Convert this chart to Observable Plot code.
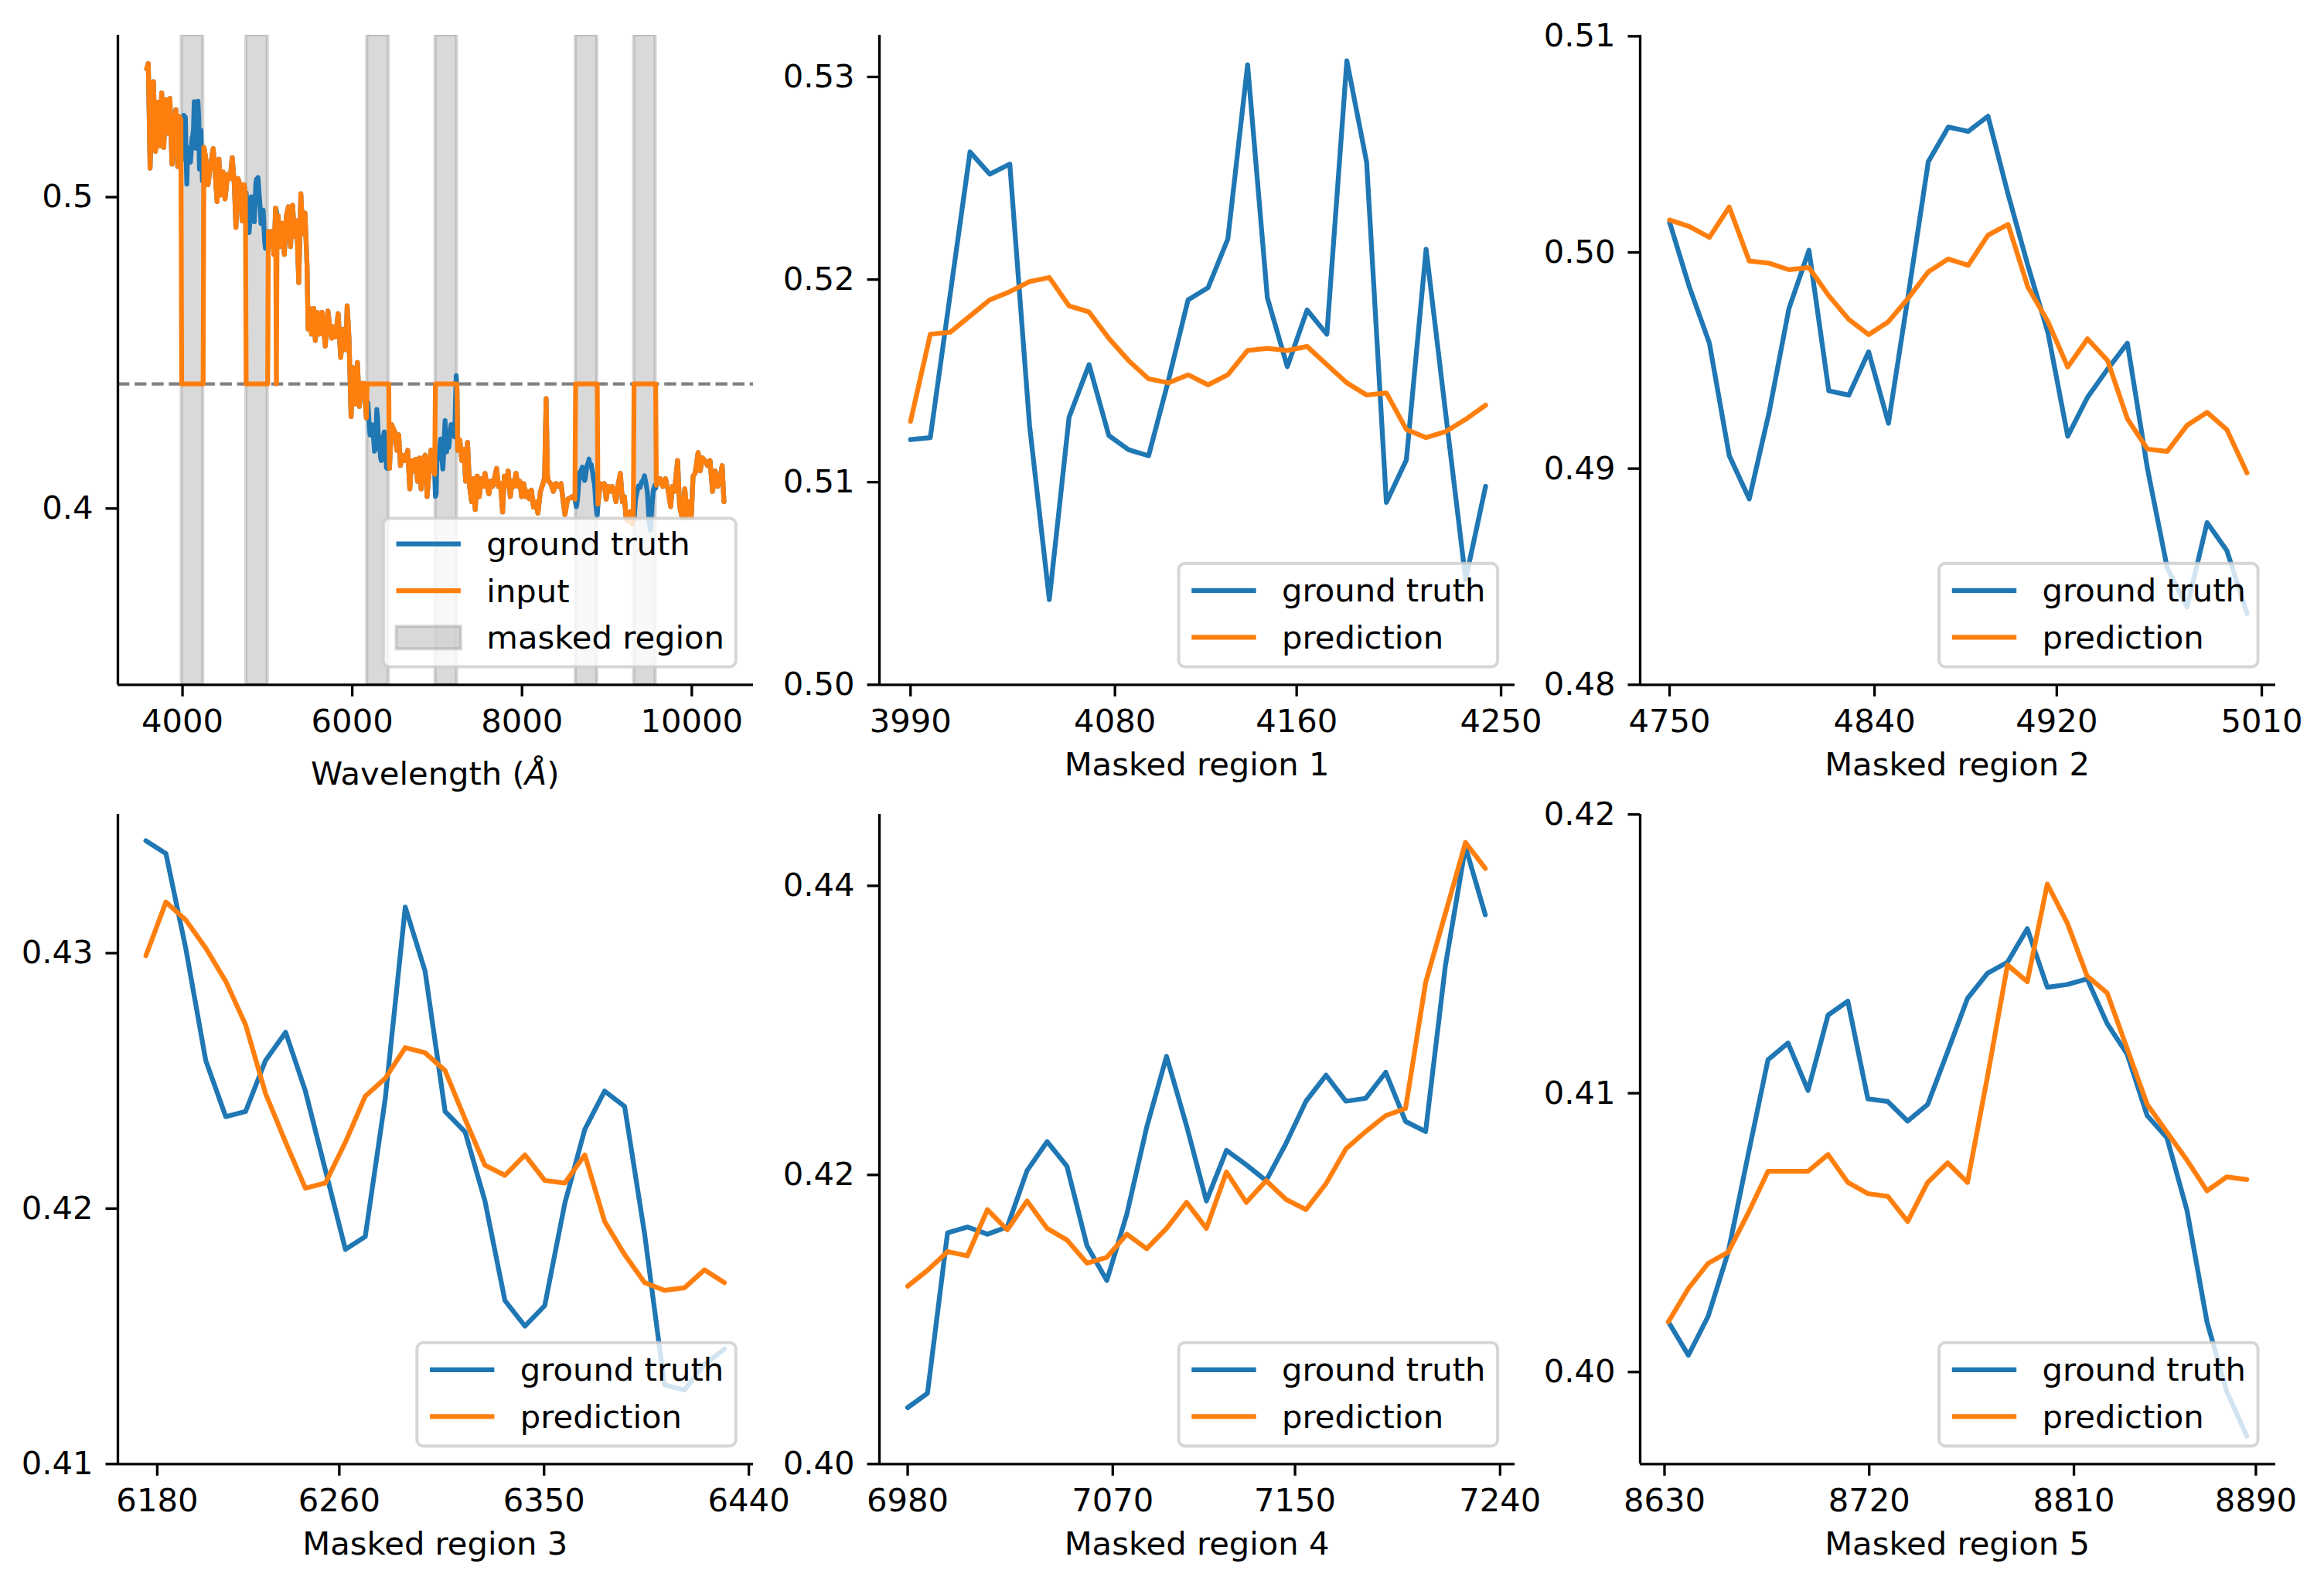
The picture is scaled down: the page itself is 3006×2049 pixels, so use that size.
<!DOCTYPE html>
<html>
<head>
<meta charset="utf-8">
<script src="https://cdn.jsdelivr.net/npm/d3@7"></script>
<script src="https://cdn.jsdelivr.net/npm/@observablehq/plot@0.6"></script>
<style>
html, body { margin: 0; padding: 0; background: #fff; }
#page { position: relative; width: 3006px; height: 2049px; overflow: hidden; background: #fff; font-family: "DejaVu Sans", sans-serif; }
.panel { position: absolute; }
.panel svg { max-width: none; overflow: visible; }
#overlay { position: absolute; left: 0; top: 0; pointer-events: none; }
</style>
</head>
<body>
<div id="page"></div>
<script>
// ---------------- DATA ----------------
const specWave = [
  3578, 3597, 3618, 3639, 3657, 3682, 3706, 3730, 3755, 3779, 3803, 3827, 3852, 3876, 3900, 3922, 3943, 3961, 3981,
  4252, 4271, 4301, 4331, 4362, 4386, 4407, 4429, 4453, 4477, 4501, 4532, 4562, 4586, 4611, 4629, 4653, 4678, 4702, 4726, 4741,
  5012, 5030, 5054, 5078, 5097, 5106, 5115, 5127, 5151, 5175, 5200, 5224, 5248, 5273, 5297, 5321, 5345, 5370, 5394, 5418, 5443, 5467,
  5480, 5500, 5520, 5546, 5565, 5590, 5615, 5645, 5682, 5713, 5740, 5758, 5773, 5803, 5834, 5864, 5894, 5925, 5940, 5961, 5986, 6010,
  6031, 6061, 6083, 6107, 6137, 6166,
  6438, 6462, 6502, 6526, 6547, 6568, 6593, 6623, 6653, 6678, 6699, 6720, 6745, 6769, 6790, 6811, 6836, 6860, 6881, 6902, 6927, 6950, 6971,
  7242, 7267, 7291, 7315, 7336, 7358, 7382, 7406, 7428, 7449, 7473, 7497, 7519, 7540, 7564, 7588, 7610, 7631, 7655, 7680, 7701, 7722,
  7746, 7771, 7792, 7813, 7837, 7862, 7883, 7904, 7929, 7953, 7974, 7995, 8020, 8044, 8065, 8086, 8111, 8135, 8157, 8187, 8217, 8248,
  8266, 8284, 8300, 8309, 8339, 8369, 8400, 8430, 8460, 8485, 8506, 8536, 8567, 8588, 8623,
  8895, 8922, 8946, 8970, 8992, 9013, 9037, 9061, 9083, 9107, 9128, 9159, 9183, 9207, 9225, 9250, 9275, 9300, 9311,
  9583, 9599, 9629, 9659, 9690, 9720, 9751, 9772, 9796, 9833, 9857, 9887, 9918, 9948, 9972, 9994, 10015, 10039, 10075, 10100,
  10124, 10154, 10185, 10215, 10245, 10276, 10306, 10337, 10358, 10379
];
const specFlux = [
  0.5412, 0.5429, 0.5093, 0.5296, 0.5371, 0.5147, 0.5305, 0.5164, 0.5334, 0.5160, 0.5313, 0.5205, 0.5317, 0.5106, 0.5222, 0.5281, 0.5098, 0.5259, 0.5250,
  0.5160, 0.5130, 0.5040, 0.5106, 0.5156, 0.5073, 0.4986, 0.5122, 0.5007, 0.5081, 0.4994, 0.5073, 0.5060, 0.5127, 0.5040, 0.4903, 0.5060, 0.5040, 0.4924, 0.5040, 0.5010,
  0.4890, 0.4853, 0.4890, 0.4816, 0.4965, 0.4955, 0.4935, 0.4940, 0.4841, 0.4916, 0.4816, 0.4940, 0.4969, 0.4841, 0.4974, 0.4874, 0.4924, 0.4725, 0.5011, 0.4882, 0.4949, 0.4783,
  0.4576, 0.4642, 0.4560, 0.4642, 0.4540, 0.4630, 0.4560, 0.4630, 0.4522, 0.4634, 0.4570, 0.4547, 0.4584, 0.4551, 0.4626, 0.4485, 0.4576, 0.4510, 0.4651, 0.4551, 0.4295, 0.4452,
  0.4336, 0.4469, 0.4328, 0.4402, 0.4402, 0.4291,
  0.4129, 0.4270, 0.4245, 0.4187, 0.4237, 0.4138, 0.4171, 0.4154, 0.4187, 0.4063, 0.4154, 0.4121, 0.4158, 0.4088, 0.4162, 0.4063, 0.4162, 0.4171, 0.4038, 0.4104, 0.4187, 0.4130, 0.4110,
  0.4187, 0.4220, 0.4154, 0.4190, 0.4088, 0.4212, 0.4071, 0.4022, 0.4096, 0.3997, 0.4104, 0.4038, 0.4096, 0.4071, 0.4113, 0.4071, 0.4047, 0.4088, 0.4071, 0.4104, 0.4129, 0.4071,
  0.4080, 0.3989, 0.4104, 0.4071, 0.4121, 0.4038, 0.4088, 0.4071, 0.4113, 0.4071, 0.4088, 0.4038, 0.4080, 0.4038, 0.4055, 0.4031, 0.4059, 0.4005, 0.4022, 0.3985, 0.4055, 0.4080,
  0.4100, 0.4353, 0.4105, 0.4088, 0.4080, 0.4055, 0.4080, 0.4071, 0.4080, 0.4022, 0.3980, 0.4030, 0.4034, 0.4038, 0.4030,
  0.4014, 0.4080, 0.4071, 0.4080, 0.4030, 0.4071, 0.4055, 0.4071, 0.4055, 0.4022, 0.4071, 0.4113, 0.4022, 0.4038, 0.3970, 0.3960, 0.3990, 0.3950, 0.3965,
  0.4075, 0.4080, 0.4096, 0.4071, 0.4096, 0.4060, 0.4006, 0.4071, 0.4055, 0.4154, 0.4006, 0.3970, 0.4063, 0.3970, 0.4022, 0.3970, 0.4104, 0.4113, 0.4180, 0.4121,
  0.4163, 0.4154, 0.4138, 0.4154, 0.4055, 0.4121, 0.4071, 0.4104, 0.4138, 0.4022
];
// a single masked pixel outside the masked regions
const isolatedMaskWave = [5106];
const maskFill = 0.44;

// Masked region 1
const region1Wave = [3990.0, 3998.7, 4007.5, 4016.2, 4024.9, 4033.7, 4042.4, 4051.1, 4059.8, 4068.6, 4077.3, 4086.0, 4094.8, 4103.5, 4112.2, 4121.0, 4129.7, 4138.4, 4147.1, 4155.9, 4164.6, 4173.3, 4182.1, 4190.8, 4199.5, 4208.3, 4217.0, 4225.7, 4234.4, 4243.2];
const region1Truth = [0.5121, 0.5122, 0.5193, 0.5263, 0.5252, 0.5257, 0.5128, 0.5042, 0.5132, 0.5158, 0.5123, 0.5116, 0.5113, 0.5150, 0.5190, 0.5196, 0.5220, 0.5306, 0.5191, 0.5157, 0.5185, 0.5173, 0.5308, 0.5258, 0.5090, 0.5111, 0.5215, 0.5133, 0.5052, 0.5098];
const region1Pred = [0.5130, 0.5173, 0.5174, 0.5182, 0.5190, 0.5194, 0.5199, 0.5201, 0.5187, 0.5184, 0.5171, 0.5160, 0.5151, 0.5149, 0.5153, 0.5148, 0.5153, 0.5165, 0.5166, 0.5165, 0.5167, 0.5158, 0.5149, 0.5143, 0.5144, 0.5126, 0.5122, 0.5125, 0.5131, 0.5138];
// Masked region 2
const region2Wave = [4750.0, 4758.7, 4767.5, 4776.2, 4785.0, 4793.7, 4802.4, 4811.2, 4819.9, 4828.7, 4837.4, 4846.1, 4854.9, 4863.6, 4872.4, 4881.1, 4889.8, 4898.6, 4907.3, 4916.1, 4924.8, 4933.5, 4942.3, 4951.0, 4959.8, 4968.5, 4977.2, 4986.0, 4994.7, 5003.5];
const region2Truth = [0.5014, 0.4984, 0.4958, 0.4906, 0.4886, 0.4926, 0.4974, 0.5001, 0.4936, 0.4934, 0.4954, 0.4921, 0.4981, 0.5042, 0.5058, 0.5056, 0.5063, 0.5027, 0.4994, 0.4963, 0.4915, 0.4933, 0.4946, 0.4958, 0.4900, 0.4854, 0.4836, 0.4875, 0.4862, 0.4833];
const region2Pred = [0.5015, 0.5012, 0.5007, 0.5021, 0.4996, 0.4995, 0.4992, 0.4993, 0.4980, 0.4969, 0.4962, 0.4968, 0.4979, 0.4991, 0.4997, 0.4994, 0.5008, 0.5013, 0.4984, 0.4968, 0.4947, 0.4960, 0.4950, 0.4923, 0.4909, 0.4908, 0.4920, 0.4926, 0.4918, 0.4898];
// Masked region 3
const region3Wave = [6175.0, 6183.8, 6192.5, 6201.3, 6210.1, 6218.8, 6227.6, 6236.4, 6245.1, 6253.9, 6262.7, 6271.4, 6280.2, 6289.0, 6297.7, 6306.5, 6315.3, 6324.0, 6332.8, 6341.6, 6350.3, 6359.1, 6367.9, 6376.6, 6385.4, 6394.2, 6402.9, 6411.7, 6420.5, 6429.2];
const region3Truth = [0.4344, 0.4339, 0.4302, 0.4258, 0.4236, 0.4238, 0.4258, 0.4269, 0.4246, 0.4215, 0.4184, 0.4189, 0.4243, 0.4318, 0.4293, 0.4238, 0.4230, 0.4203, 0.4164, 0.4154, 0.4162, 0.4202, 0.4231, 0.4246, 0.4240, 0.4190, 0.4131, 0.4129, 0.4139, 0.4145];
const region3Pred = [0.4299, 0.4320, 0.4313, 0.4302, 0.4289, 0.4272, 0.4245, 0.4226, 0.4208, 0.4210, 0.4226, 0.4244, 0.4251, 0.4263, 0.4261, 0.4254, 0.4235, 0.4217, 0.4213, 0.4221, 0.4211, 0.4210, 0.4221, 0.4195, 0.4182, 0.4171, 0.4168, 0.4169, 0.4176, 0.4171];
// Masked region 4
const region4Wave = [6980.0, 6988.7, 6997.5, 7006.2, 7015.0, 7023.7, 7032.4, 7041.2, 7049.9, 7058.7, 7067.4, 7076.2, 7084.9, 7093.6, 7102.4, 7111.1, 7119.9, 7128.6, 7137.3, 7146.1, 7154.8, 7163.6, 7172.3, 7181.0, 7189.8, 7198.5, 7207.3, 7216.0, 7224.8, 7233.5];
const region4Truth = [0.4039, 0.4049, 0.4160, 0.4164, 0.4159, 0.4164, 0.4203, 0.4223, 0.4206, 0.4151, 0.4127, 0.4173, 0.4233, 0.4282, 0.4234, 0.4182, 0.4217, 0.4207, 0.4196, 0.4222, 0.4251, 0.4269, 0.4251, 0.4253, 0.4271, 0.4237, 0.4230, 0.4345, 0.4427, 0.4380];
const region4Pred = [0.4123, 0.4134, 0.4147, 0.4144, 0.4176, 0.4162, 0.4182, 0.4163, 0.4155, 0.4139, 0.4143, 0.4159, 0.4149, 0.4163, 0.4181, 0.4163, 0.4202, 0.4181, 0.4196, 0.4183, 0.4176, 0.4194, 0.4218, 0.4230, 0.4241, 0.4246, 0.4333, 0.4381, 0.4430, 0.4412];
// Masked region 5
const region5Wave = [8631.7, 8640.5, 8649.2, 8658.0, 8666.8, 8675.5, 8684.3, 8693.1, 8701.9, 8710.6, 8719.4, 8728.2, 8736.9, 8745.7, 8754.5, 8763.2, 8772.0, 8780.8, 8789.5, 8798.3, 8807.1, 8815.8, 8824.6, 8833.4, 8842.2, 8850.9, 8859.7, 8868.5, 8877.2, 8886.0];
const region5Truth = [0.4018, 0.4006, 0.4020, 0.4043, 0.4078, 0.4112, 0.4118, 0.4101, 0.4128, 0.4133, 0.4098, 0.4097, 0.4090, 0.4096, 0.4115, 0.4134, 0.4143, 0.4147, 0.4159, 0.4138, 0.4139, 0.4141, 0.4125, 0.4114, 0.4092, 0.4084, 0.4058, 0.4018, 0.3993, 0.3977];
const region5Pred = [0.4018, 0.4030, 0.4039, 0.4043, 0.4057, 0.4072, 0.4072, 0.4072, 0.4078, 0.4068, 0.4064, 0.4063, 0.4054, 0.4068, 0.4075, 0.4068, 0.4106, 0.4146, 0.4140, 0.4175, 0.4161, 0.4142, 0.4136, 0.4116, 0.4096, 0.4086, 0.4076, 0.4065, 0.4070, 0.4069];
// Masked region 6 (shown only in the overview panel)
const region6Wave = [9320, 9338, 9356, 9373, 9391, 9408, 9426, 9443, 9461, 9478, 9496, 9513, 9531, 9548, 9566, 9574];
const region6Truth = [0.3965, 0.4030, 0.4055, 0.4072, 0.4068, 0.4085, 0.4090, 0.4105, 0.4080, 0.4050, 0.3960, 0.3930, 0.4010, 0.4060, 0.4075, 0.4065];

// Tick labels
const overviewXTicks = [4000, 6000, 8000, 10000];
const overviewYTicks = [0.4, 0.5];
const regionXTicks = [
  [3990, 4080, 4160, 4250],
  [4750, 4840, 4920, 5010],
  [6180, 6260, 6350, 6440],
  [6980, 7070, 7150, 7240],
  [8630, 8720, 8810, 8890]
];
const regionYTicks = [
  [0.50, 0.51, 0.52, 0.53],
  [0.48, 0.49, 0.50, 0.51],
  [0.41, 0.42, 0.43],
  [0.40, 0.42, 0.44],
  [0.40, 0.41, 0.42]
];
const regionLabels = ["Masked region 1", "Masked region 2", "Masked region 3", "Masked region 4", "Masked region 5"];

// ---------------- STYLE / LAYOUT ----------------
const BLUE = "#1f77b4", ORANGE = "#ff7f0e";
const LW = 6.25, SPINE = 3.33, TICK = 15.5, PAD = 16.5, FS = 41.7;
const AW = 822, AH = 840.3;
const ML = 150, MR = 90, MT = 10, MB = 80;
const colLeft = [151.8, 1137.1, 2120.6];
const rowTop = [44.7, 1052.7];
const page = document.getElementById("page");

const overviewX = [3239, 10726], overviewY = [0.3434, 0.5520];
const regionXDomains = [[3976.3, 4256.1], [4737.1, 5016.1], [6162.7, 6442.0], [6967.6, 7246.5], [8619.3, 8898.7]];
const regionYDomains = [[0.50, 0.53206], [0.48, 0.51005], [0.41, 0.43543], [0.40, 0.44494], [0.3967, 0.42]];

function makePlot({marks, xDomain, yDomain, xTicks, yTicks, yFormat, col, row}) {
  const svg = Plot.plot({
    width: ML + AW + MR, height: MT + AH + MB,
    marginLeft: ML, marginRight: MR, marginTop: MT, marginBottom: MB,
    style: {background: "transparent", fontFamily: '"DejaVu Sans", sans-serif', fontSize: FS + "px", color: "#000", overflow: "visible", maxWidth: "none"},
    x: {domain: xDomain},
    y: {domain: yDomain},
    marks: [
      ...marks,
      Plot.ruleY([yDomain[0]], {stroke: "#000", strokeWidth: SPINE}),
      Plot.ruleX([xDomain[0]], {stroke: "#000", strokeWidth: SPINE}),
      Plot.axisX({ticks: xTicks, tickFormat: d => String(d), tickSize: TICK, tickPadding: PAD, stroke: "#000", strokeWidth: SPINE, label: null}),
      Plot.axisY({ticks: yTicks, tickFormat: d3.format(yFormat), tickSize: TICK, tickPadding: PAD, stroke: "#000", strokeWidth: SPINE, label: null})
    ]
  });
  const div = document.createElement("div");
  div.className = "panel";
  div.style.left = (colLeft[col] - ML) + "px";
  div.style.top = (rowTop[row] - MT) + "px";
  div.appendChild(svg);
  page.appendChild(div);
}

// ---------------- OVERVIEW PANEL ----------------
const maskedRegions = [
  {wave: region1Wave, truth: region1Truth},
  {wave: region2Wave, truth: region2Truth},
  {wave: region3Wave, truth: region3Truth},
  {wave: region4Wave, truth: region4Truth},
  {wave: region5Wave, truth: region5Truth},
  {wave: region6Wave, truth: region6Truth}
];
const truthPts = specWave.map((w, i) => ({w, f: specFlux[i]}));
const inputPts = specWave.map((w, i) => ({w, f: isolatedMaskWave.includes(w) ? maskFill : specFlux[i]}));
for (const r of maskedRegions) {
  r.wave.forEach((w, i) => {
    truthPts.push({w, f: r.truth[i]});
    inputPts.push({w, f: maskFill});
  });
}
truthPts.sort((a, b) => a.w - b.w);
inputPts.sort((a, b) => a.w - b.w);
const spans = maskedRegions.map(r => ({x1: r.wave[0], x2: r.wave[r.wave.length - 1], y1: overviewY[0], y2: overviewY[1]}));

makePlot({
  col: 0, row: 0, xDomain: overviewX, yDomain: overviewY,
  xTicks: overviewXTicks, yTicks: overviewYTicks, yFormat: ".1f",
  marks: [
    Plot.rect(spans, {x1: "x1", x2: "x2", y1: "y1", y2: "y2", fill: "gray", fillOpacity: 0.3, stroke: "gray", strokeOpacity: 0.3, strokeWidth: 4.17, clip: true}),
    Plot.ruleY([maskFill], {stroke: "gray", strokeWidth: 4.17, strokeDasharray: "15.4,6.7"}),
    Plot.line(truthPts, {x: "w", y: "f", stroke: BLUE, strokeWidth: LW}),
    Plot.line(inputPts, {x: "w", y: "f", stroke: ORANGE, strokeWidth: LW})
  ]
});

// ---------------- REGION PANELS ----------------
const regionData = [
  [region1Wave, region1Truth, region1Pred],
  [region2Wave, region2Truth, region2Pred],
  [region3Wave, region3Truth, region3Pred],
  [region4Wave, region4Truth, region4Pred],
  [region5Wave, region5Truth, region5Pred]
];
const panelPos = [[1, 0], [2, 0], [0, 1], [1, 1], [2, 1]];
regionData.forEach(([wave, truth, pred], k) => {
  const rows = wave.map((w, i) => ({w, truth: truth[i], pred: pred[i]}));
  makePlot({
    col: panelPos[k][0], row: panelPos[k][1],
    xDomain: regionXDomains[k], yDomain: regionYDomains[k],
    xTicks: regionXTicks[k], yTicks: regionYTicks[k], yFormat: ".2f",
    marks: [
      Plot.line(rows, {x: "w", y: "truth", stroke: BLUE, strokeWidth: LW}),
      Plot.line(rows, {x: "w", y: "pred", stroke: ORANGE, strokeWidth: LW})
    ]
  });
});

// ---------------- OVERLAY: axis labels and legends ----------------
const ov = d3.create("svg").attr("id", "overlay").attr("width", 3006).attr("height", 2049)
  .style("font-family", '"DejaVu Sans", sans-serif').style("font-size", FS + "px");

function xLabel(col, row, baselineOffset, build) {
  const t = ov.append("text")
    .attr("x", colLeft[col] + AW / 2)
    .attr("y", rowTop[row] + AH + baselineOffset)
    .attr("text-anchor", "middle").attr("fill", "#000");
  build(t);
}
xLabel(0, 0, 130, t => {
  t.append("tspan").text("Wavelength (");
  t.append("tspan").attr("font-style", "italic").text("Å");
  t.append("tspan").text(")");
});
regionLabels.forEach((lab, k) => xLabel(panelPos[k][0], panelPos[k][1], 118, t => t.text(lab)));

function legend(col, row, entries, w, h, rowYs) {
  const right = colLeft[col] + AW - 22, bottom = rowTop[row] + AH - 22.5;
  const left = right - w, top = bottom - h;
  const g = ov.append("g");
  g.append("rect").attr("x", left).attr("y", top).attr("width", w).attr("height", h)
    .attr("rx", 8).attr("fill", "#fff").attr("fill-opacity", 0.8)
    .attr("stroke", "#cccccc").attr("stroke-opacity", 0.8).attr("stroke-width", 4);
  entries.forEach((e, i) => {
    const cy = top + rowYs[i];
    if (e.type === "line") {
      g.append("line").attr("x1", left + 16.7).attr("x2", left + 100.1).attr("y1", cy).attr("y2", cy)
        .attr("stroke", e.color).attr("stroke-width", LW);
    } else {
      g.append("rect").attr("x", left + 16.7).attr("y", cy - 14.6).attr("width", 83.4).attr("height", 29.2)
        .attr("fill", "gray").attr("fill-opacity", 0.3).attr("stroke", "gray").attr("stroke-opacity", 0.3).attr("stroke-width", 4.17);
    }
    g.append("text").attr("x", left + 133.5).attr("y", cy + 14.5).attr("fill", "#000").text(e.label);
  });
}
legend(0, 0, [
  {type: "line", color: BLUE, label: "ground truth"},
  {type: "line", color: ORANGE, label: "input"},
  {type: "patch", label: "masked region"}
], 456, 192, [33, 93.6, 154.2]);
panelPos.forEach(([c, r]) => legend(c, r, [
  {type: "line", color: BLUE, label: "ground truth"},
  {type: "line", color: ORANGE, label: "prediction"}
], 412.5, 133.7, [35, 95.6]));

page.appendChild(ov.node());
</script>
</body>
</html>
